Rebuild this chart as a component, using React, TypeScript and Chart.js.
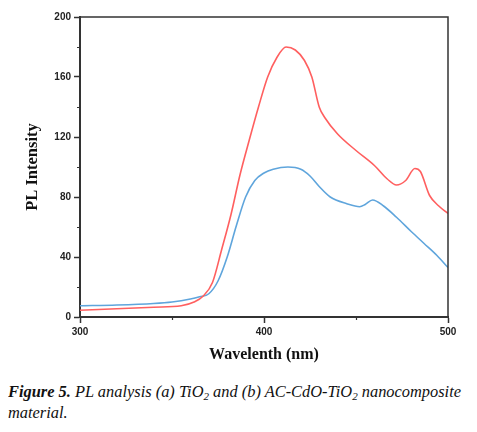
import React, { useEffect, useRef } from "react";
import { Chart, registerables } from "chart.js";

Chart.register(...registerables);

// (a) TiO2 — red curve
const redWavelengths = [300, 320, 340, 355, 362, 367, 372, 377, 382, 387, 392, 397, 402, 407, 412, 417, 422, 426, 430, 433, 440, 450, 460, 467, 472, 477, 482, 485, 490, 495, 500];
const redIntensity = [4.5, 5.5, 6.5, 7.5, 10, 14, 23, 45, 68, 95, 118, 140, 160, 173, 180, 178, 171, 160, 140, 133, 122, 111, 101, 92, 88, 91, 99, 97, 81, 74, 69];

// (b) AC-CdO-TiO2 — blue curve
const blueWavelengths = [300, 320, 340, 350, 360, 365, 370, 375, 380, 385, 390, 395, 400, 405, 413, 420, 425, 430, 436, 445, 452, 455, 459, 465, 472, 480, 487, 494, 500];
const blueIntensity = [7.5, 8, 9, 10, 12, 13.5, 15.5, 24, 40, 61, 80, 91, 96, 98.5, 100, 98.5, 94, 87, 80, 75.5, 73.5, 75, 78, 74, 66.5, 57, 49, 41, 33];

const xTicks = [300, 400, 500];
const xMinorTicks = [350, 450];
const yTicks = [0, 40, 80, 120, 160, 200];
const yMinorTicks = [20, 60, 100, 140, 180];

const seriesNames = ["(a) TiO2", "(b) AC-CdO-TiO2"];

const AXIS = "#333333";

const framePlugin = {
  id: "frameAndMinor",
  afterDraw(chart: any) {
    const { ctx, chartArea } = chart;
    const xs = chart.scales.x;
    const ys = chart.scales.y;
    ctx.save();
    ctx.strokeStyle = AXIS;
    ctx.lineWidth = 1.5;
    ctx.beginPath();
    ctx.moveTo(chartArea.left, chartArea.top);
    ctx.lineTo(chartArea.right, chartArea.top);
    ctx.lineTo(chartArea.right, chartArea.bottom);
    ctx.stroke();
    ctx.lineWidth = 1.2;
    ctx.beginPath();
    for (const v of yMinorTicks) {
      const py = Math.round(ys.getPixelForValue(v)) + 0.5;
      ctx.moveTo(chartArea.left - 3, py);
      ctx.lineTo(chartArea.left, py);
    }
    for (const v of xMinorTicks) {
      const px = Math.round(xs.getPixelForValue(v)) + 0.5;
      ctx.moveTo(px, chartArea.bottom);
      ctx.lineTo(px, chartArea.bottom + 3);
    }
    ctx.stroke();
    ctx.restore();
  },
};

function ChartView() {
  const ref = useRef<HTMLCanvasElement | null>(null);
  useEffect(() => {
    if (!ref.current) return;
    const chart = new Chart(ref.current, {
      type: "line",
      data: {
        datasets: [
          {
            label: seriesNames[0],
            data: redWavelengths.map((w, i) => ({ x: w, y: redIntensity[i] })),
            borderColor: "rgb(255,95,95)",
            borderWidth: 1.6,
            pointRadius: 0,
            tension: 0.4,
            cubicInterpolationMode: "monotone",
            fill: false,
          },
          {
            label: seriesNames[1],
            data: blueWavelengths.map((w, i) => ({ x: w, y: blueIntensity[i] })),
            borderColor: "rgb(95,165,220)",
            borderWidth: 1.6,
            pointRadius: 0,
            tension: 0.4,
            cubicInterpolationMode: "monotone",
            fill: false,
          },
        ],
      },
      options: {
        animation: false,
        responsive: false,
        maintainAspectRatio: false,
        layout: { padding: { top: 8, right: 21, bottom: 0, left: 0 } },
        plugins: { legend: { display: false }, tooltip: { enabled: false } },
        scales: {
          x: {
            type: "linear",
            min: 300,
            max: 500,
            afterBuildTicks: (s: any) => {
              s.ticks = xTicks.map((v) => ({ value: v }));
            },
            afterFit: (s: any) => {
              s.height = 51;
            },
            ticks: {
              padding: 3,
              color: "#222",
              font: { family: "'Liberation Sans', Arial", weight: "bold", size: 10 },
              callback: (v: any) => String(v),
            },
            grid: {
              drawOnChartArea: false,
              drawTicks: true,
              tickLength: 6,
              tickColor: AXIS,
              tickWidth: 1.5,
            },
            border: { display: true, color: AXIS, width: 2 },
            title: {
              display: true,
              text: "Wavelenth (nm)",
              color: "#111",
              font: { family: "'Liberation Serif', 'Times New Roman', serif", weight: "bold", size: 16 },
              padding: { top: 0, bottom: 3.4 },
            },
          },
          y: {
            type: "linear",
            min: 0,
            max: 200,
            afterBuildTicks: (s: any) => {
              s.ticks = yTicks.map((v) => ({ value: v }));
            },
            afterFit: (s: any) => {
              s.width = 72;
            },
            ticks: {
              padding: 3,
              color: "#222",
              font: { family: "'Liberation Sans', Arial", weight: "bold", size: 10 },
              callback: (v: any) => String(v),
            },
            grid: {
              drawOnChartArea: false,
              drawTicks: true,
              tickLength: 6,
              tickColor: AXIS,
              tickWidth: 1.5,
            },
            border: { display: true, color: AXIS, width: 2 },
            title: {
              display: true,
              text: "PL Intensity",
              color: "#111",
              font: { family: "'Liberation Serif', 'Times New Roman', serif", weight: "bold", size: 16.5 },
              padding: { top: 15, bottom: 0 },
            },
          },
        },
      },
      plugins: [framePlugin],
    });
    return () => chart.destroy();
  }, []);
  return <canvas ref={ref} width={461} height={360} style={{ display: "block", width: 461, height: 360 }} />;
}

export default function App() {
  const cap: React.CSSProperties = {
    fontFamily: "'Liberation Serif', 'Times New Roman', serif",
    fontStyle: "italic",
    fontSize: 16.4,
    lineHeight: "21px",
    color: "#111",
    marginTop: 13,
    whiteSpace: "nowrap",
  };
  const sub: React.CSSProperties = { fontSize: 11, verticalAlign: "-3px", lineHeight: 0 };
  return (
    <div style={{ width: 461 }}>
      <ChartView />
      <div style={cap}>
        <b>Figure 5.</b> PL analysis (a) TiO<span style={sub}>2</span> and (b) AC-CdO-TiO<span style={sub}>2</span> nanocomposite
        <br />
        material.
      </div>
    </div>
  );
}
